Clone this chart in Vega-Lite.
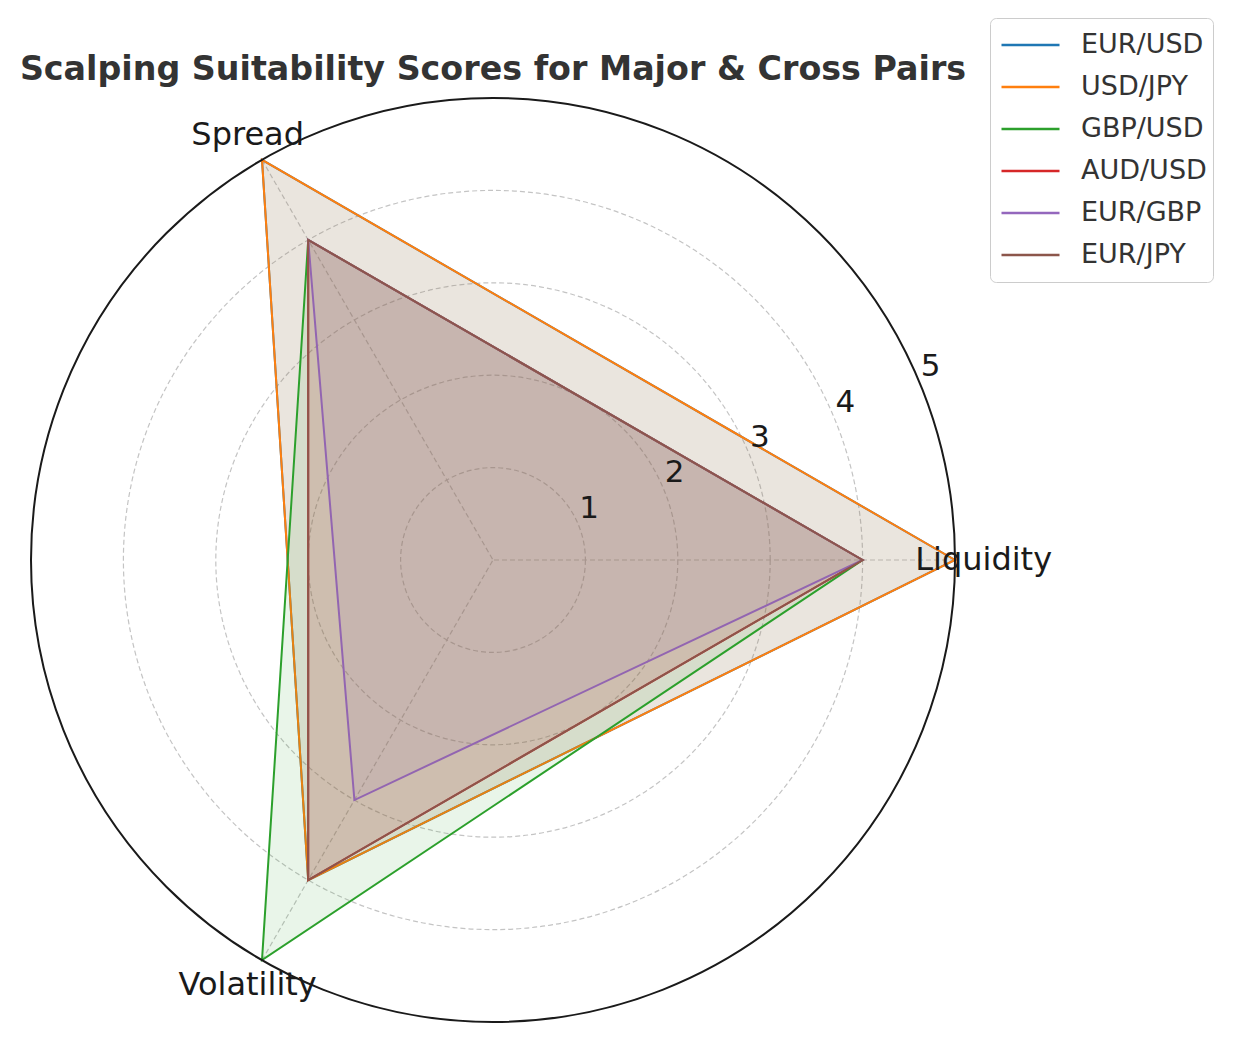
{
  "$schema": "https://vega.github.io/schema/vega-lite/v6.json",
  "width": 924,
  "height": 924,
  "autosize": {"type": "none"},
  "padding": {"left": 31, "top": 98, "right": 283, "bottom": 20},
  "background": "white",
  "config": {"view": {"stroke": null}, "font": "DejaVu Sans"},
  "title": {"text": "Scalping Suitability Scores for Major & Cross Pairs", "font": "DejaVu Sans", "fontSize": 33.3, "fontWeight": "bold", "color": "#333333", "anchor": "middle", "frame": "group", "offset": 10, "dy": 80},
  "datasets": {
    "scores": [
      {"pair": "EUR/USD", "axis": "Liquidity", "value": 5},
      {"pair": "EUR/USD", "axis": "Spread", "value": 5},
      {"pair": "EUR/USD", "axis": "Volatility", "value": 4},
      {"pair": "USD/JPY", "axis": "Liquidity", "value": 5},
      {"pair": "USD/JPY", "axis": "Spread", "value": 5},
      {"pair": "USD/JPY", "axis": "Volatility", "value": 4},
      {"pair": "GBP/USD", "axis": "Liquidity", "value": 4},
      {"pair": "GBP/USD", "axis": "Spread", "value": 4},
      {"pair": "GBP/USD", "axis": "Volatility", "value": 5},
      {"pair": "AUD/USD", "axis": "Liquidity", "value": 4},
      {"pair": "AUD/USD", "axis": "Spread", "value": 4},
      {"pair": "AUD/USD", "axis": "Volatility", "value": 4},
      {"pair": "EUR/GBP", "axis": "Liquidity", "value": 4},
      {"pair": "EUR/GBP", "axis": "Spread", "value": 4},
      {"pair": "EUR/GBP", "axis": "Volatility", "value": 3},
      {"pair": "EUR/JPY", "axis": "Liquidity", "value": 4},
      {"pair": "EUR/JPY", "axis": "Spread", "value": 4},
      {"pair": "EUR/JPY", "axis": "Volatility", "value": 4}
    ],
    "rings": [{"r": 1}, {"r": 2}, {"r": 3}, {"r": 4}, {"r": 5}],
    "axes": [{"axis": "Liquidity"}, {"axis": "Spread"}, {"axis": "Volatility"}]
  },
  "layer": [
    {
      "data": {"name": "rings"},
      "transform": [{"filter": "datum.r < 5"}],
      "mark": {"type": "point", "shape": "circle", "filled": false, "stroke": "#c4c4c4", "strokeWidth": 1.2, "strokeDash": [5, 3], "opacity": 1},
      "encoding": {
        "x": {"datum": 0, "type": "quantitative", "scale": {"domain": [-5, 5], "nice": false, "zero": false}, "axis": null},
        "y": {"datum": 0, "type": "quantitative", "scale": {"domain": [-5, 5], "nice": false, "zero": false}, "axis": null},
        "size": {"field": "r", "type": "quantitative", "scale": {"type": "pow", "exponent": 2, "domain": [0, 5], "range": [0, 853776], "zero": true, "nice": false}, "legend": null}
      }
    },
    {
      "data": {"name": "axes"},
      "transform": [
        {"calculate": "indexof(['Liquidity','Spread','Volatility'], datum.axis) * 2 * PI / 3", "as": "a"},
        {"calculate": "5 * cos(datum.a)", "as": "xe"},
        {"calculate": "5 * sin(datum.a)", "as": "ye"}
      ],
      "mark": {"type": "rule", "stroke": "#c4c4c4", "strokeWidth": 1.2, "strokeDash": [5, 3]},
      "encoding": {
        "x": {"field": "xe", "type": "quantitative", "scale": {"domain": [-5, 5], "nice": false, "zero": false}, "axis": null},
        "y": {"field": "ye", "type": "quantitative", "scale": {"domain": [-5, 5], "nice": false, "zero": false}, "axis": null},
        "x2": {"datum": 0},
        "y2": {"datum": 0}
      }
    },
    {
      "data": {"name": "scores"},
      "transform": [
        {"calculate": "indexof(['Liquidity','Spread','Volatility'], datum.axis) * 2 * PI / 3", "as": "a"},
        {"calculate": "datum.value * cos(datum.a)", "as": "x"},
        {"calculate": "datum.value * sin(datum.a)", "as": "y"}
      ],
      "mark": {"type": "line", "interpolate": "linear-closed", "strokeWidth": 2, "fillOpacity": 0.1},
      "encoding": {
        "x": {"field": "x", "type": "quantitative", "scale": {"domain": [-5, 5], "nice": false, "zero": false}, "axis": null},
        "y": {"field": "y", "type": "quantitative", "scale": {"domain": [-5, 5], "nice": false, "zero": false}, "axis": null},
        "order": {"field": "a", "type": "quantitative"},
        "color": {
          "field": "pair", "type": "nominal",
          "scale": {"domain": ["EUR/USD", "USD/JPY", "GBP/USD", "AUD/USD", "EUR/GBP", "EUR/JPY"], "range": ["#1f77b4", "#ff7f0e", "#2ca02c", "#d62728", "#9467bd", "#8c564b"]},
          "legend": {"title": null, "orient": "none", "legendX": 959, "legendY": -80, "labelFontSize": 27, "labelColor": "#333333", "labelFont": "DejaVu Sans", "symbolType": "stroke", "symbolSize": 3364, "symbolStrokeWidth": 2.5, "symbolOffset": 4, "strokeColor": "#cccccc", "fillColor": "white", "cornerRadius": 6, "padding": 6, "labelOffset": 20, "rowPadding": 0, "clipHeight": 42}
        },
        "fill": {
          "field": "pair", "type": "nominal",
          "scale": {"domain": ["EUR/USD", "USD/JPY", "GBP/USD", "AUD/USD", "EUR/GBP", "EUR/JPY"], "range": ["#1f77b4", "#ff7f0e", "#2ca02c", "#d62728", "#9467bd", "#8c564b"]},
          "legend": null
        }
      }
    },
    {
      "data": {"name": "rings"},
      "transform": [{"filter": "datum.r == 5"}],
      "mark": {"type": "point", "shape": "circle", "filled": false, "stroke": "#1a1a1a", "strokeWidth": 2, "opacity": 1},
      "encoding": {
        "x": {"datum": 0, "type": "quantitative", "scale": {"domain": [-5, 5], "nice": false, "zero": false}, "axis": null},
        "y": {"datum": 0, "type": "quantitative", "scale": {"domain": [-5, 5], "nice": false, "zero": false}, "axis": null},
        "size": {"field": "r", "type": "quantitative", "scale": {"type": "pow", "exponent": 2, "domain": [0, 5], "range": [0, 853776], "zero": true, "nice": false}, "legend": null}
      }
    },
    {
      "data": {"name": "axes"},
      "transform": [
        {"calculate": "indexof(['Liquidity','Spread','Volatility'], datum.axis) * 2 * PI / 3", "as": "a"},
        {"calculate": "5.31 * cos(datum.a)", "as": "x"},
        {"calculate": "5.31 * sin(datum.a)", "as": "y"}
      ],
      "mark": {"type": "text", "fontSize": 32, "align": "center", "baseline": "middle", "color": "#1a1a1a", "font": "DejaVu Sans"},
      "encoding": {
        "x": {"field": "x", "type": "quantitative", "scale": {"domain": [-5, 5], "nice": false, "zero": false}, "axis": null},
        "y": {"field": "y", "type": "quantitative", "scale": {"domain": [-5, 5], "nice": false, "zero": false}, "axis": null},
        "text": {"field": "axis", "type": "nominal"}
      }
    },
    {
      "data": {"name": "rings"},
      "transform": [
        {"calculate": "datum.r * cos(PI / 8)", "as": "x"},
        {"calculate": "datum.r * sin(PI / 8)", "as": "y"}
      ],
      "mark": {"type": "text", "fontSize": 31, "align": "left", "baseline": "bottom", "color": "#1a1a1a", "font": "DejaVu Sans", "dx": 1},
      "encoding": {
        "x": {"field": "x", "type": "quantitative", "scale": {"domain": [-5, 5], "nice": false, "zero": false}, "axis": null},
        "y": {"field": "y", "type": "quantitative", "scale": {"domain": [-5, 5], "nice": false, "zero": false}, "axis": null},
        "text": {"field": "r", "type": "quantitative"}
      }
    }
  ]
}
